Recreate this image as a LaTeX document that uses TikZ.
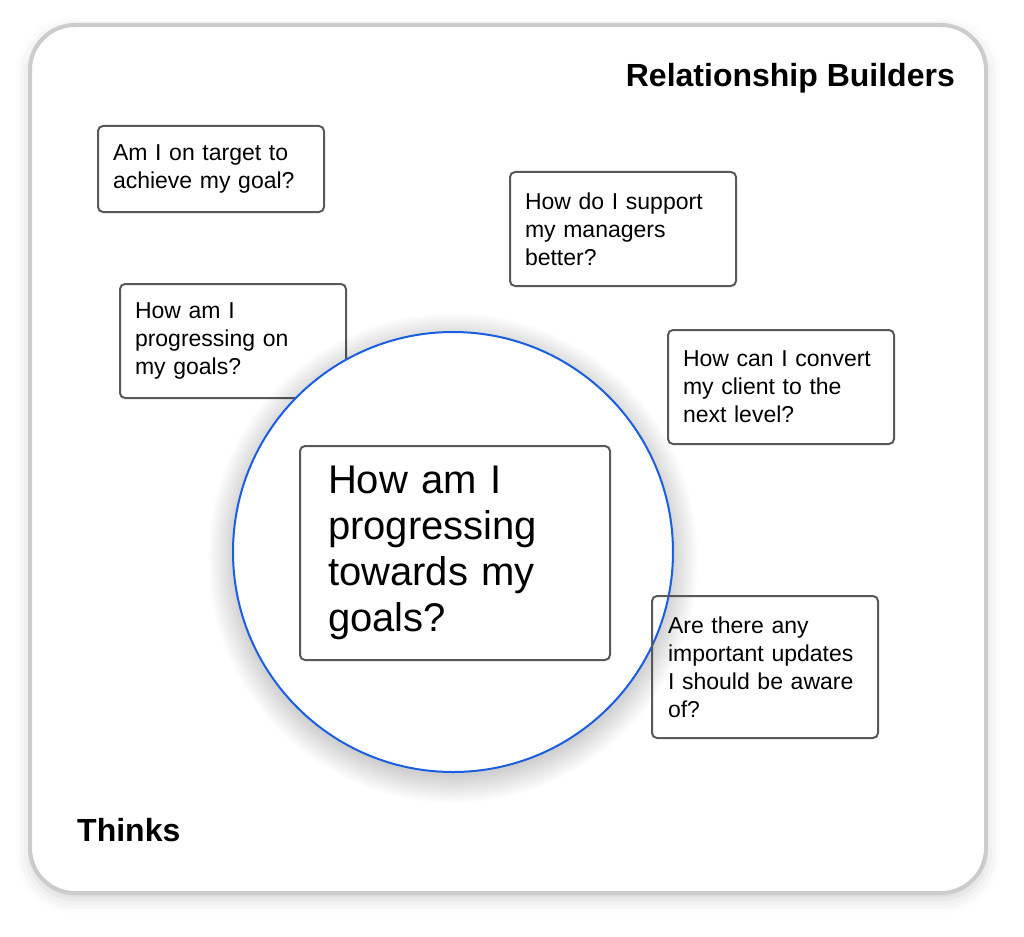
\documentclass[tikz,border=0pt]{standalone}
\usepackage{fontspec}
\setmainfont{Liberation Sans}
\usetikzlibrary{shadows.blur}
\definecolor{framegray}{HTML}{CCCCCC}
\definecolor{boxgray}{HTML}{595959}
\definecolor{ringblue}{HTML}{1A5FE0}
\tikzset{
  question/.style={draw=boxgray, line width=2pt, rounded corners=5pt, anchor=north west,
    align=left, inner xsep=15pt, inner ysep=0pt, text width=196pt,
    font=\fontsize{23}{28}\selectfont},
  heading/.style={inner sep=0pt, font=\fontsize{32}{36}\selectfont\bfseries},
}
\begin{document}
\begin{tikzpicture}[x=1pt,y=-1pt]
      \useasboundingbox (0,0) rectangle (1024,936);
      \draw[framegray, line width=4pt, rounded corners=45pt, fill=white,
        blur shadow={shadow xshift=0pt, shadow yshift=-6pt, shadow blur radius=14pt, shadow opacity=18}]
        (30,25) rectangle (986,893);

      \node[heading, anchor=base east] (builders) at (955,87) {Relationship Builders};
      \node[heading, anchor=base west] (thinks) at (77,841) {Thinks};

      \node[question, minimum height=86pt] (target) at (97,125) {Am I on target to\\achieve my goal?};
      \node[question, minimum height=114pt] (support) at (509,171) {How do I support\\my managers\\better?};
      \node[question, fill=white, minimum height=114pt] (progress) at (119,283) {How am I\\progressing on\\my goals?};
      \node[question, minimum height=114pt] (convert) at (667,329) {How can I convert\\my client to the\\next level?};

      \foreach \i in {1,...,16}
        \fill[black, opacity=0.012] (453,558) circle ({216+1.8*\i});
      \node[circle, draw=ringblue, line width=2pt, fill=white, minimum size=440pt] (ring) at (453,552) {};

      \node[question, inner xsep=28pt, text width=254pt, minimum height=214pt,
        font=\fontsize{40}{46}\selectfont] (core) at (299,445) {How am I\\progressing\\towards my\\goals?};
      \node[question, inner xsep=16pt, text width=194pt, minimum height=142pt] (updates) at (651,595)
        {Are there any\\important updates\\I should be aware\\of?};
\end{tikzpicture}
\end{document}
